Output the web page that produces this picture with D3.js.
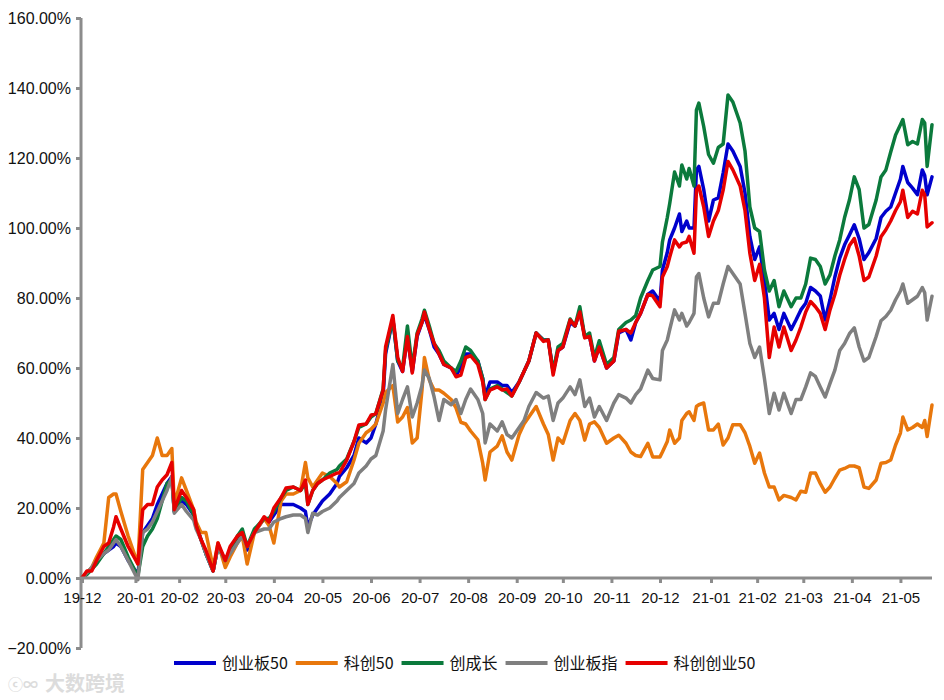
<!DOCTYPE html>
<html><head><meta charset="utf-8">
<script src="https://cdn.jsdelivr.net/npm/d3@7"></script>
<style>
html,body{margin:0;padding:0;background:#fff;}
svg{display:block;}
</style></head>
<body><svg id="chart" width="944" height="700"></svg>
<script>
// trading-day index of each sampled point
const dayIdx = [0,2,4,6,9,11,13,14,16,19, 23,25,27,29,31,33,35,37,38,41, 43,46,47,49,51,54,56,59,61,64,
 66,68,71,75,77,79,82,84,87,90, 92,93,95,97,99,102,105,106,109,112, 114,117,119,121,124,125,128,130,132,134,
 136,138,140,141,143,145,147,149,152,154, 156,158,160,163,165,166,168,171,173,175, 177,180,182,184,187,190,192,194,196,198,
 201,203,205,207,209,211,213,216,219,221, 224,226,228,230,233,235,238,239,241,242, 244,246,247,249,250,252,253,254,256,258,
 260,262,264,266,268,271,273,275,277,279, 281,283,285,287,289,292,294,296,298,300, 302,304,306,308,310,312,314,316,318,320,
 322,324,327,329,331,333,335,337,338,340, 342,344,346,347,348,350];

const cyb50 = [0,1.5,2.5,4.5,7,8,9,10,9,5, 1,13,15,17,21,24,27,29,19,22, 21,18,15,11,7,2,9,5,8,11,
 12,8,13,17,16,18,21,21,21,20, 19,14.6,18,20,22,24,27,29,31.5,35, 40,38.6,40,44,52,64,74,62,59,69,
 59,69,73,75,71,66,64,61,60,58, 60,64,64,62,57,52,56,56,55,55, 53,56,59,62,70,68,68,59,65,66,
 73,72,76,69,69,62,66,60,62,70, 71,68,73,75.6,81,82,79,88,93,96.6, 100,104,99,102,100,100,116.6,117.6,111,102,
 108,108.6,115.7,124,122,117.6,110,97.6,91,94.6, 85,73.7,75.6,71,75.6,71,73.7,76.6,78.5,83, 82,80.6,73.7,79.5,86,91.4,95.2,98,100.9,97,
 91,93,97,103,104.8,106,110,114,117.6,113, 111.4,109.5,116.6,115,109.5,114.6];

const kc50 = [0,1.5,3,6,10,23,24,24,19,12, 4,31,33,35,40,35,35,37,21,28.6, 25,19.5,16,13,13,3,10,3,6,10,
 12,4,13,17,15,10,22,24,24,25, 33,28.6,26,28,30,29,27,26,27.5,33.7, 38.5,41.5,42.5,44,50,53,55,44.6,46,48.7,
 38.6,40,53.7,63,56.6,53.7,53.7,52.8,51,48.6, 44.5,44,42,39.5,32.8,28,36,37.7,40.6,36, 33.7,41,44,46,49,44,41,33.7,40,38.5,
 45,47,45,39.4,44,44.6,43,38.5,40,40.8, 38.5,36,35,34.7,38.5,34.6,34.6,36,39,42.3, 38.5,40,45,47,47.5,45,49,49.5,50,42.3,
 42.3,44,38,40,43.8,43.8,41.5,37.6,32.8,35.7, 30,26,26,22.3,23.6,23,22.3,24.8,24.5,30, 30,27,24.5,26,28.5,30.8,31.3,32,32,31.5,
 26,25.6,28,32.8,33,33.7,38,41.4,46,42.3, 43,44,43,45,40.4,49.4];

const ccz = [0,1,2.5,4,7,9,11,12,11,6, 0.5,9,12,14,17,22,27,28,19,23, 22,18,15,11,7,2,9,5,8,12,
 14,9,14,17,17,19,23,25,26,25, 27,21,25,27,28,30,31,32,34,39, 43,44,46,47,54,65,74,62,60,72,
 60,70,74,76.5,72,67,65,62,60,59, 62,66,65,62,57,51,54,55,54,53, 52,56,59,62,70,68,68,59,66,67,
 74,72,77.5,69,70,63,67.8,61,63,71, 73,73.7,75,80,85,88,89,96,103,107, 116,112,118,114,117,112,133.7,135.7,129,121,
 118.5,123,124,138,136,130,122,106,100,99, 88,82,85,77.5,82,77.5,80,80,84,91.4, 91,89,84,86.6,92,96.6,103,108,114.6,111,
 100,101,108,114.6,116.6,121.7,126.6,129.5,131,123.8, 124.7,124,131,130,117.6,129.5];

const cybz = [0,1.5,3,5,7,8,10,11,9,5, -0.5,13,14,16,19,22,25,29,18.5,21, 19,16.5,14,11,7,2,9,5,7,10,
 12,9,13,14,14,16,17,17.5,18,18, 17,13,18.5,18,19,20,22,23,25,27, 30,32,34,35,42,48,61,47,51,54.6,
 46,50,55,59.4,57,51.7,45,51,49.5,51, 47,51,54,51,47,38.6,44,42,44.6,41, 40,43,45,49,53,51.4,52,45,50,51.4,
 54.6,52.4,56.6,49,51.4,46,49,45,50,52.4, 51.4,50,52.4,54,59.4,57,56.6,65,68,71, 76.6,73.7,75.6,72,73,75.6,86,87,80,74.6,
 78.5,78.5,84,89,87,84,75.6,67,63,66, 57,47,52.8,48,52.8,47,51,51,54.6,58.6, 57.6,54.6,51.7,55.6,59.4,65,67,69.8,71.5,66,
 62,63,69,73.5,74.7,76.5,79.5,82,84,78.5, 79.5,80.5,83,81.5,73.7,80.5];

const kccy50 = [0,2,2,5,9,10,14.6,17.5,14,9, 4,19.5,21,21,26,28,29.5,33,19.5,25, 23,19.5,15,11,8,2,10,5,9,12,
 13,9,13,17.5,16,20,23,25.7,26,25, 28,21,25,27,28,29,30,30,33.7,39, 43.7,44,46.5,47,53.7,66,75,63,59,69,
 58.6,69.5,73,76,71,67,64,61,60,57.5, 58,63,63.5,61,56,51,53.7,54.6,53.7,54, 52,56,59,62,70,67.6,68,58,65,66,
 73.7,72,76,68.6,69,62,66,60,62,70.5, 71,70,73,75.6,81,80.6,77.5,86,89,91.7, 96.6,94.6,95.6,96,97.6,92.8,110.8,112,106,97.6,
 102,105,110.8,119,116.6,112,105,92.8,85,89.6, 80,63,71.7,66,71.7,65,68,71.7,76,79, 77.5,75.6,71,76.6,81,86.5,91,95,97,92,
 85,86,92,97.5,99.5,102,105,107.5,110.8,103, 104.8,104,110.8,109.5,100.3,101.5];

const seriesNames = ["创业板50","科创50","创成长","创业板指","科创创业50"];
const seriesColors = ["#0000CC","#E8770C","#0B7A3C","#7F7F7F","#E60000"];
const seriesValues = [cyb50, kc50, ccz, cybz, kccy50];

const monthLabels = ["19-12","20-01","20-02","20-03","20-04","20-05","20-06","20-07","20-08","20-09","20-10","20-11","20-12","21-01","21-02","21-03","21-04","21-05"];
const monthIdx = [0,22,40,59,79,99,119,139,159,179,198,218,238,259,278,297,317,337];
const yTicks = [-20,0,20,40,60,80,100,120,140,160];

const svg = d3.select("#chart");
const x = d3.scaleLinear().domain([0,350]).range([82,932]);
const y = d3.scaleLinear().domain([-20,160]).range([648,18]);
const axisColor = "#8C8C8C";
const numFont = "'Liberation Sans', Arial, sans-serif";
const cjkFont = "'Noto Sans CJK SC', 'Noto Sans', sans-serif";

// y axis
const yAxis = svg.append("g").attr("transform","translate(81,0)")
  .call(d3.axisLeft(y).tickValues(yTicks).tickSize(5).tickPadding(5).tickFormat(d => d3.format(".2f")(d) + "%"));
yAxis.select(".domain").attr("stroke",axisColor).attr("stroke-width",3).attr("d","M0,18V648");
yAxis.selectAll(".tick line").attr("stroke",axisColor).attr("stroke-width",3);
yAxis.selectAll(".tick text").attr("fill","#111").style("font-family",numFont).style("font-size","16px");

// series lines
const line = d3.line().x(d => x(d[0])).y(d => y(d[1]));
seriesValues.forEach((vals, i) => {
  svg.append("path")
    .datum(d3.zip(dayIdx, vals))
    .attr("fill","none")
    .attr("stroke",seriesColors[i])
    .attr("stroke-width",3.5)
    .attr("stroke-linejoin","round")
    .attr("stroke-linecap","round")
    .attr("d",line);
});

// x axis at 0
const xAxis = svg.append("g").attr("transform",`translate(0,${y(0)})`)
  .call(d3.axisBottom(x).tickValues(monthIdx).tickSize(5).tickPadding(9).tickFormat((d,i) => monthLabels[i]));
xAxis.select(".domain").attr("stroke",axisColor).attr("stroke-width",3).attr("d","M80,0H932");
xAxis.selectAll(".tick line").attr("stroke",axisColor).attr("stroke-width",3);
xAxis.selectAll(".tick text").attr("fill","#111").style("font-family",numFont).style("font-size","15px");

// legend
const legend = svg.append("g");
let lx = 174;
const ly = 663;
seriesNames.forEach((name, i) => {
  legend.append("line").attr("x1",lx).attr("x2",lx+42).attr("y1",ly).attr("y2",ly)
    .attr("stroke",seriesColors[i]).attr("stroke-width",4);
  const t = legend.append("text").attr("x",lx+48).attr("y",ly).attr("dy","0.35em")
    .attr("fill","#111").style("font-family",cjkFont).style("font-size","16px").text(name);
  lx = lx + 48 + t.node().getComputedTextLength() + 8;
});

// watermark
svg.append("text").attr("x",8).attr("y",690).attr("fill","#dcdcdc")
  .style("font-family",cjkFont).style("font-size","15px").style("font-weight","bold").text("ⓒ∞");
svg.append("text").attr("x",45).attr("y",691).attr("fill","#dcdcdc")
  .style("font-family",cjkFont).style("font-size","20px").style("font-weight","bold").text("大数跨境");
</script>
</body></html>
